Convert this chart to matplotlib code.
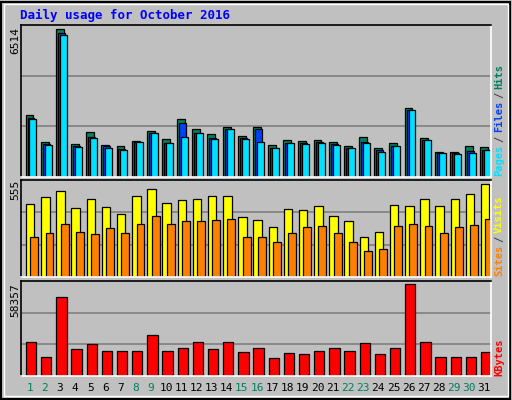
import numpy as np
import matplotlib
matplotlib.use("Agg")
import matplotlib.pyplot as plt

# DATA
###############################################################################
days = list(range(1, 32))
weekend = [1, 2, 8, 9, 15, 16, 22, 23, 29, 30]
hits = [2727, 1562, 6514, 1474, 2005, 1430, 1386, 1607, 2049, 1695, 2580, 2137, 1916, 2226, 1828, 2226,
        1430, 1651, 1607, 1651, 1562, 1386, 1784, 1297, 1518, 3066, 1739, 1120, 1120, 1386, 1341]
files = [2594, 1474, 6338, 1386, 1784, 1386, 1253, 1562, 1960, 1518, 2403, 1960, 1739, 2137, 1739, 2137,
         1297, 1518, 1518, 1562, 1474, 1297, 1562, 1209, 1386, 2977, 1651, 1076, 1076, 1164, 1209]
pages = [2580, 1430, 6250, 1341, 1739, 1297, 1209, 1562, 1960, 1518, 1784, 1960, 1695, 2137, 1695, 1562,
         1297, 1518, 1474, 1518, 1430, 1297, 1518, 1120, 1386, 2977, 1651, 1076, 1032, 1076, 1209]
visits = [435, 477, 513, 411, 465, 417, 375, 483, 525, 441, 459, 465, 483, 483, 357, 339,
          297, 405, 399, 423, 363, 333, 242, 272, 429, 423, 465, 423, 465, 495, 555]
sites = [242, 266, 315, 272, 260, 291, 266, 315, 363, 315, 333, 333, 339, 345, 242, 242,
         212, 266, 297, 303, 266, 212, 158, 170, 303, 315, 303, 266, 297, 309, 345]
kbytes = [21805, 12185, 50020, 17315, 20520, 16030, 16030, 16030, 26290, 16030, 17955, 21805, 17315, 21805,
          15390, 17955, 11545, 14750, 14110, 16030, 17955, 16030, 21160, 14110, 17955, 58357, 21805,
          12185, 12185, 12185, 15390]
###############################################################################

W, H = 512, 400
BG = '#c0c0c0'
fig = plt.figure(figsize=(W / 100, H / 100), dpi=100)
fig.patch.set_facecolor(BG)
x = np.array(days, dtype=float)
mono = 'DejaVu Sans Mono'
renderer = fig.canvas.get_renderer()


def panel(top, bottom, ymax):
    ax = fig.add_axes([21 / W, 1 - bottom / H, 470 / W, (bottom - top) / H])
    ax.set_facecolor(BG)
    ax.set_xlim(0.5, 31.5)
    ax.set_ylim(0, ymax)
    ax.set_xticks([])
    ax.set_yticks([])
    for g in (ymax / 3, 2 * ymax / 3):
        ax.axhline(g, color='#808080', lw=1.2, zorder=0)
    for s in ax.spines.values():
        s.set_color('black')
        s.set_linewidth(1.2)
    ax.spines['right'].set_color('white')
    ax.spines['bottom'].set_color('white')
    return ax


def bars(ax, off, vals, w, color):
    ax.bar(x - 0.5 + off, vals, w, align='edge', color=color, edgecolor='black', lw=0.9)


def side_label(parts, ybottom):
    # stack rotated text pieces upward from ybottom (pixels from top)
    y = ybottom
    for txt, col in parts:
        t = fig.text(499 / W, 1 - y / H, txt, color=col, rotation=90, ha='center', va='bottom',
                     family=mono, fontsize=7.5, fontweight='bold')
        y -= t.get_window_extent(renderer).height + 3


# top: hits / files / pages
ax1 = panel(25, 177, 6706)
bars(ax1, 0.30, hits, 0.52, '#00805c')
bars(ax1, 0.43, files, 0.46, '#0040ff')
bars(ax1, 0.56, pages, 0.46, '#00e0ff')
fig.text(15 / W, 1 - 40 / H, '6514', rotation=90, ha='center', va='center', family=mono, fontsize=8)
side_label([('Pages', '#00e0ff'), ('/', '#404040'), ('Files', '#0040ff'), ('/', '#404040'),
            ('Hits', '#00805c')], 176)

# middle: visits / sites
ax2 = panel(180, 277, 581)
bars(ax2, 0.33, visits, 0.56, '#ffff00')
bars(ax2, 0.62, sites, 0.52, '#ff8000')
fig.text(15 / W, 1 - 190 / H, '555', rotation=90, ha='center', va='center', family=mono, fontsize=8)
side_label([('Sites', '#ff8000'), ('/', '#404040'), ('Visits', '#ffff00')], 276)

# bottom: kbytes
ax3 = panel(281, 376, 60470)
bars(ax3, 0.33, kbytes, 0.68, '#ff0000')
fig.text(15 / W, 1 - 300 / H, '58357', rotation=90, ha='center', va='center', family=mono, fontsize=8)
side_label([('KBytes', '#ff0000')], 376)

# day labels
for d in days:
    c = '#00805c' if d in weekend else 'black'
    xp = ax3.transData.transform((d, 0))[0] / W
    fig.text(xp + 1 / W, 1 - 388 / H, str(d), color=c, ha='center', va='center', family=mono, fontsize=8)

fig.text(20 / W, 1 - 15 / H, 'Daily usage for October 2016', color='#0000ff', ha='left', va='center',
         family=mono, fontsize=9, fontweight='bold')

# outer frame
fig.add_artist(plt.Rectangle((1 / W, 1 / H), (W - 3) / W, (H - 3) / H, transform=fig.transFigure,
                             fill=False, edgecolor='black', lw=1.5))
fig.add_artist(plt.Rectangle((4 / W, 4 / H), (W - 8) / W, (H - 8) / H, transform=fig.transFigure,
                             fill=False, edgecolor='white', lw=1))

fig.savefig('out.png', dpi=100, facecolor=BG)
